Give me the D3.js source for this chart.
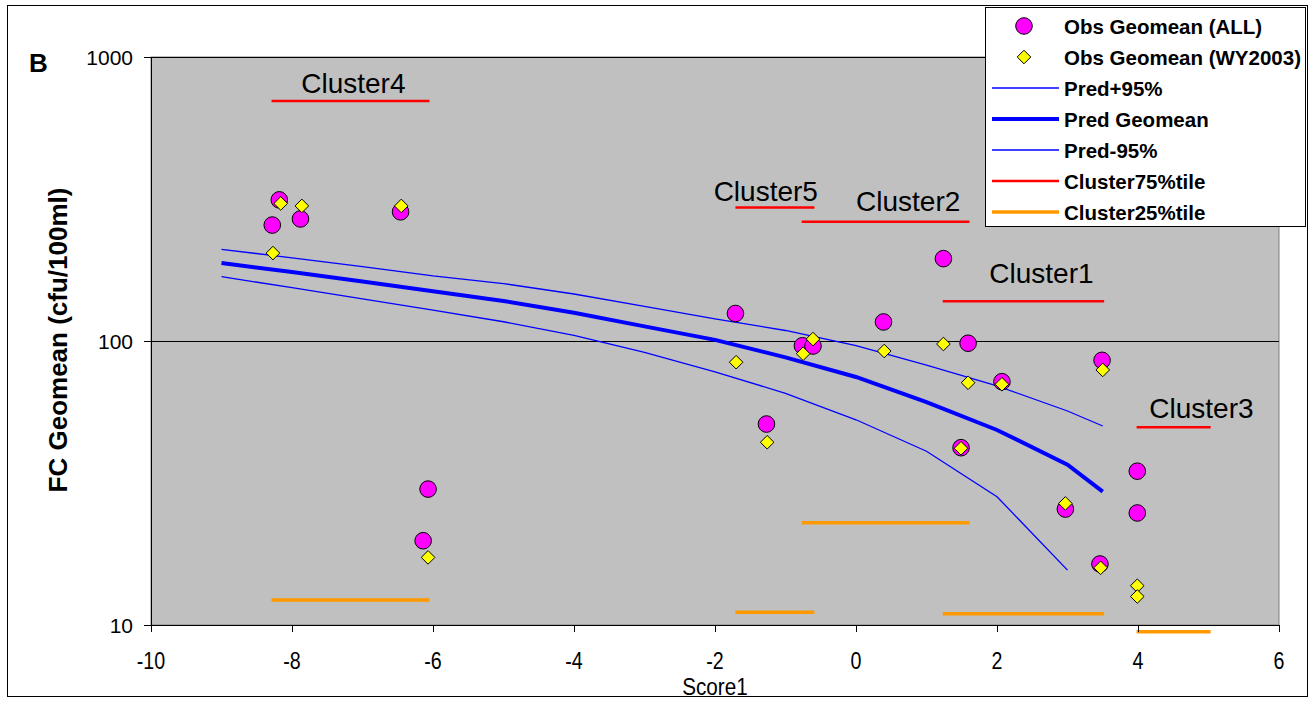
<!DOCTYPE html>
<html>
<head>
<meta charset="utf-8">
<script src="https://cdn.jsdelivr.net/npm/d3@7"></script>
<style>
  html, body { margin: 0; padding: 0; background: #fff; }
  svg { display: block; }
  text { font-family: "Liberation Sans", Arial, sans-serif; }
</style>
</head>
<body>
<svg id="chart" width="1313" height="702"></svg>
<script>
// ---------------- data ----------------
const xTicks = [-10, -8, -6, -4, -2, 0, 2, 4, 6];
const yTicks = [10, 100, 1000];

const obsAllX = [-8.18, -8.28, -7.88, -6.46, -6.07, -6.14, -1.71, -1.27, -0.76, -0.61, 0.39, 1.24, 1.59, 1.49, 2.07, 2.97, 3.49, 3.46, 3.99, 3.99];
const obsAllY = [314, 256, 269, 285, 30.1, 19.8, 125, 51.0, 96.2, 96, 116.7, 195, 98.2, 42.1, 71.9, 25.6, 85.5, 16.4, 34.8, 24.8];

const obsWYX = [-8.16, -7.86, -8.27, -6.45, -6.07, -1.70, -1.26, -0.75, -0.61, 0.40, 1.24, 1.59, 1.49, 2.07, 2.97, 3.50, 3.47, 3.99, 3.99];
const obsWYY = [305, 299, 204, 299, 17.3, 84.2, 44.0, 90.2, 101.6, 92.2, 97.6, 71.3, 41.9, 70.4, 26.8, 79.1, 15.9, 13.75, 12.6];

const predX = [-9, -8, -7, -6, -5, -4, -3, -2, -1, 0, 1, 2, 3, 3.5];
const predUpper = [210.3, 196.3, 182.8, 169.5, 159.3, 146.4, 132.3, 119.6, 108.9, 96.3, 82.3, 69.5, 56.7, 50.2];
const predGeomean = [188.2, 175, 162, 149.6, 138.3, 125.7, 112.6, 100.9, 87.6, 74.7, 60.9, 48.6, 36.7, 29.5];
const predLowerX = [-9, -8, -7, -6, -5, -4, -3, -2, -1, 0, 1, 2, 3];
const predLower = [168.4, 154.2, 140.8, 128.4, 116.9, 104.6, 91.2, 77.9, 65.4, 52.8, 40.9, 28.3, 15.6];

const clusterNames = ["Cluster4", "Cluster5", "Cluster2", "Cluster1", "Cluster3"];
const clusterMin = [-8.29, -1.71, -0.77, 1.23, 3.98];
const clusterMax = [-6.05, -0.59, 1.61, 3.52, 5.03];
const cluster75 = [700, 295, 263, 138, 49.7];
const cluster25 = [12.25, 11.1, 22.9, 10.96, 9.47];
const clusterLabelX = [-7.13, -1.28, 0.74, 2.63, 4.90];
const clusterLabelY = [745, 312, 288, 160, 53.4];

const legendLabels = ["Obs Geomean (ALL)", "Obs Geomean (WY2003)", "Pred+95%", "Pred Geomean", "Pred-95%", "Cluster75%tile", "Cluster25%tile"];

// ---------------- layout ----------------
const svg = d3.select("#chart");
const L = 151, R = 1279, T = 57, B = 625;
const x = d3.scaleLinear().domain([-10, 6]).range([L, R]);
const y = d3.scaleLog().domain([10, 1000]).range([B, T]);

// outer frame
svg.append("rect").attr("x", 7.5).attr("y", 5.5).attr("width", 1300).attr("height", 691)
  .attr("fill", "#fff").attr("stroke", "#000").attr("stroke-width", 1);

// plot area
svg.append("rect").attr("x", L).attr("y", T).attr("width", R - L).attr("height", B - T)
  .attr("fill", "#C0C0C0").attr("stroke", "#808080").attr("stroke-width", 1);

// gridlines
svg.append("g").selectAll("line").data(yTicks).join("line")
  .attr("x1", L).attr("x2", R)
  .attr("y1", d => Math.round(y(d)) + 0.5).attr("y2", d => Math.round(y(d)) + 0.5)
  .attr("stroke", "#000").attr("stroke-width", 1);

// prediction lines
const lineGen = d3.line().x(d => x(d[0])).y(d => y(d[1]));
const upperData = predX.map((v, i) => [v, predUpper[i]]);
const geoData = predX.map((v, i) => [v, predGeomean[i]]);
const lowerData = predLowerX.map((v, i) => [v, predLower[i]]);
svg.append("path").datum(upperData).attr("d", lineGen).attr("fill", "none").attr("stroke", "#0000FF").attr("stroke-width", 1.3);
svg.append("path").datum(geoData).attr("d", lineGen).attr("fill", "none").attr("stroke", "#0000FF").attr("stroke-width", 4);
svg.append("path").datum(lowerData).attr("d", lineGen).attr("fill", "none").attr("stroke", "#0000FF").attr("stroke-width", 1.3);

// cluster percentile lines
const clusters = clusterNames.map((n, i) => ({ n, x0: clusterMin[i], x1: clusterMax[i], q75: cluster75[i], q25: cluster25[i], lx: clusterLabelX[i], ly: clusterLabelY[i] }));
const cg = svg.append("g");
cg.selectAll("line.q75").data(clusters).join("line").attr("class", "q75")
  .attr("x1", d => x(d.x0)).attr("x2", d => x(d.x1))
  .attr("y1", d => y(d.q75)).attr("y2", d => y(d.q75))
  .attr("stroke", "#FF0000").attr("stroke-width", 2.5);
cg.selectAll("line.q25").data(clusters).join("line").attr("class", "q25")
  .attr("x1", d => x(d.x0)).attr("x2", d => x(d.x1))
  .attr("y1", d => y(d.q25)).attr("y2", d => y(d.q25))
  .attr("stroke", "#FF9900").attr("stroke-width", 3.5);
cg.selectAll("text").data(clusters).join("text")
  .attr("x", d => x(d.lx)).attr("y", d => y(d.ly))
  .attr("text-anchor", "middle").attr("font-size", 28).attr("fill", "#000")
  .text(d => d.n);

// observed points
const allPts = obsAllX.map((v, i) => [v, obsAllY[i]]);
const wyPts = obsWYX.map((v, i) => [v, obsWYY[i]]);
svg.append("g").selectAll("circle").data(allPts).join("circle")
  .attr("cx", d => x(d[0])).attr("cy", d => y(d[1])).attr("r", 8.3)
  .attr("fill", "#FF00FF").attr("stroke", "#000").attr("stroke-width", 1);
const diamond = (cx, cy, s) => `M${cx},${cy - s}L${cx + s},${cy}L${cx},${cy + s}L${cx - s},${cy}Z`;
svg.append("g").selectAll("path").data(wyPts).join("path")
  .attr("d", d => diamond(x(d[0]), y(d[1]), 6.8))
  .attr("fill", "#FFFF00").attr("stroke", "#000").attr("stroke-width", 1);

// axes
svg.append("line").attr("x1", L + 0.5).attr("x2", L + 0.5).attr("y1", T).attr("y2", B).attr("stroke", "#000");
svg.append("line").attr("x1", L).attr("x2", R).attr("y1", B + 0.5).attr("y2", B + 0.5).attr("stroke", "#000");
svg.append("g").selectAll("line").data(xTicks).join("line")
  .attr("x1", d => Math.round(x(d)) + 0.5).attr("x2", d => Math.round(x(d)) + 0.5)
  .attr("y1", B).attr("y2", B + 7).attr("stroke", "#000");
svg.append("g").selectAll("line").data(yTicks).join("line")
  .attr("x1", L - 7).attr("x2", L)
  .attr("y1", d => Math.round(y(d)) + 0.5).attr("y2", d => Math.round(y(d)) + 0.5).attr("stroke", "#000");

svg.append("g").selectAll("text").data(xTicks).join("text")
  .attr("transform", d => `translate(${x(d)},669) scale(0.82,1)`)
  .attr("text-anchor", "middle").attr("font-size", 24).text(d => String(d));
svg.append("g").selectAll("text").data(yTicks).join("text")
  .attr("x", 133).attr("y", d => y(d) + 7.5)
  .attr("text-anchor", "end").attr("font-size", 21).text(d => String(d));

svg.append("text").attr("transform", `translate(${(L + R) / 2},695) scale(0.9,1)`)
  .attr("text-anchor", "middle").attr("font-size", 23).text("Score1");
svg.append("text").attr("transform", `translate(67,340) rotate(-90)`)
  .attr("text-anchor", "middle").attr("font-size", 26).attr("font-weight", "bold").text("FC Geomean (cfu/100ml)");
svg.append("text").attr("x", 29).attr("y", 72).attr("font-size", 26).attr("font-weight", "bold").text("B");

// legend
const lg = svg.append("g");
lg.append("rect").attr("x", 985.5).attr("y", 7.5).attr("width", 320).attr("height", 219)
  .attr("fill", "#fff").attr("stroke", "#000").attr("stroke-width", 1);
const rowY = i => 26 + i * 31;
legendLabels.forEach((t, i) => {
  const cy = rowY(i);
  if (i === 0) {
    lg.append("circle").attr("cx", 1024).attr("cy", cy).attr("r", 8.3).attr("fill", "#FF00FF").attr("stroke", "#000");
  } else if (i === 1) {
    lg.append("path").attr("d", diamond(1024, cy, 6.8)).attr("fill", "#FFFF00").attr("stroke", "#000");
  } else {
    const styles = [null, null, ["#0000FF", 1.3], ["#0000FF", 4], ["#0000FF", 1.3], ["#FF0000", 2.5], ["#FF9900", 3.5]];
    lg.append("line").attr("x1", 992).attr("x2", 1059).attr("y1", cy).attr("y2", cy)
      .attr("stroke", styles[i][0]).attr("stroke-width", styles[i][1]);
  }
  lg.append("text").attr("x", 1064).attr("y", cy + 7.5).attr("font-size", 20.5).attr("font-weight", "bold").text(t);
});
</script>
</body>
</html>
